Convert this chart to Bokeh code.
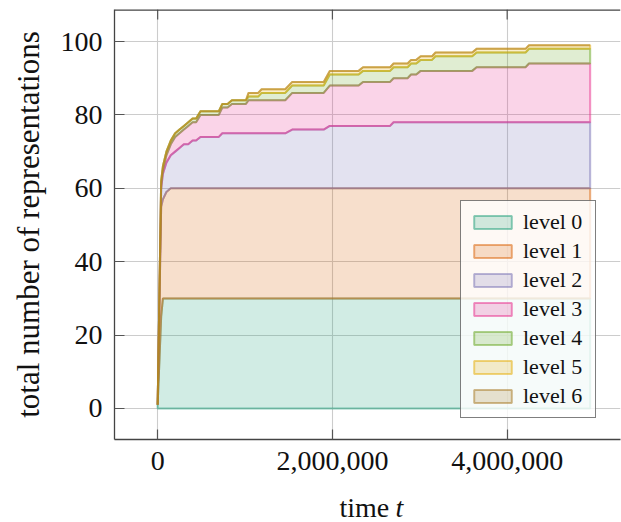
import numpy as np
from bokeh.plotting import figure
from bokeh.layouts import column
from bokeh.models import (Legend, LegendItem, FixedTicker, NumeralTickFormatter,
                          Range1d, Span)
from bokeh.core.properties import value
from bokeh.embed import file_html
from bokeh.resources import INLINE

# ---- data ----
time = [0, 40000, 60000, 100000, 150000, 200000, 250000, 300000, 350000, 400000,
        440000, 490000, 700000, 740000, 800000, 850000, 1010000, 1040000, 1150000,
        1190000, 1460000, 1540000, 1900000, 1970000, 2300000, 2350000, 2660000,
        2700000, 2860000, 2900000, 2960000, 3010000, 3140000, 3180000, 3600000,
        3650000, 4210000, 4250000, 4950000]

level0 = [1, 25, 30, 30, 30, 30, 30, 30, 30, 30, 30, 30, 30, 30, 30, 30, 30, 30, 30, 30,
          30, 30, 30, 30, 30, 30, 30, 30, 30, 30, 30, 30, 30, 30, 30, 30, 30, 30, 30]
level1 = [0, 30, 27, 29, 30, 30, 30, 30, 30, 30, 30, 30, 30, 30, 30, 30, 30, 30, 30, 30,
          30, 30, 30, 30, 30, 30, 30, 30, 30, 30, 30, 30, 30, 30, 30, 30, 30, 30, 30]
level2 = [0, 5, 7, 8, 9, 10, 11, 12, 12, 13, 13, 14, 14, 15, 15, 15, 15, 15, 15, 15,
          15, 16, 16, 17, 17, 17, 17, 18, 18, 18, 18, 18, 18, 18, 18, 18, 18, 18, 18]
level3 = [0, 1, 1, 2, 3, 4, 4, 4, 5, 5, 5, 6, 6, 7, 7, 8, 8, 9, 9, 9,
          9, 10, 10, 11, 11, 12, 12, 12, 12, 13, 13, 14, 14, 14, 14, 15, 15, 16, 16]
level4 = [0, 1, 1, 1, 1, 1, 1, 1, 1, 1, 1, 1, 1, 1, 1, 1, 1, 1, 1, 2,
          2, 2, 2, 3, 3, 3, 3, 3, 3, 3, 3, 3, 3, 4, 4, 4, 4, 4, 4]
level5 = [0, 0, 0, 0, 0, 0, 0, 0, 0, 0, 0, 0, 0, 0, 0, 0, 0, 1, 1, 1,
          1, 1, 1, 1, 1, 1, 1, 1, 1, 1, 1, 1, 1, 1, 1, 1, 1, 1, 1]
level6 = [0, 0, 0, 0, 0, 0, 0, 0, 0, 0, 0, 0, 0, 0, 0, 0, 0, 0, 0, 0,
          0, 0, 0, 0, 0, 0, 0, 0, 0, 0, 0, 0, 0, 0, 0, 0, 0, 0, 0]

labels = ["level 0", "level 1", "level 2", "level 3", "level 4", "level 5", "level 6"]
x_ticks = [0, 2000000, 4000000]
y_ticks = [0, 20, 40, 60, 80, 100]
x_label = ["time", "t"]

colors = ["#1b9e77", "#d95f02", "#7570b3", "#e7298a", "#66a61e", "#e6ab02", "#a6761d"]
FONT = "Liberation Serif"
TXT = "#111111"
X0, X1 = -494000, 5297000
Y0, Y1 = -8.46, 108.73

p = figure(width=621, height=482, output_backend="svg", toolbar_location=None,
           x_range=Range1d(X0, X1), y_range=Range1d(Y0, Y1),
           min_border_left=114, min_border_right=1, min_border_top=9,
           min_border_bottom=43, frame_align=False)
p.outline_line_color = None
p.background_fill_color = "white"
p.border_fill_color = "white"

levels = [level0, level1, level2, level3, level4, level5, level6]
t = np.array(time, dtype=float)
bottom = np.zeros(len(t))
renderers = []
for vals, col in zip(levels, colors):
    top = bottom + np.array(vals, dtype=float)
    xs = np.concatenate([t, t[::-1]])
    ys = np.concatenate([top, bottom[::-1]])
    r = p.patch(xs, ys, fill_color=col, fill_alpha=0.2, line_color=col,
                line_alpha=0.5, line_width=2.0)
    renderers.append(r)
    bottom = top

# axes
for ax in [p.xaxis[0], p.yaxis[0]]:
    ax.major_tick_in = 10
    ax.major_tick_out = 0
    ax.minor_tick_line_color = None
    ax.axis_line_color = "#444444"
    ax.axis_line_width = 1.3
    ax.major_tick_line_color = "#555555"
    ax.major_tick_line_width = 1.2
    ax.major_label_text_font = FONT
    ax.major_label_text_font_size = "28px"
    ax.major_label_text_color = TXT
    ax.major_label_standoff = 12

p.xaxis[0].ticker = FixedTicker(ticks=x_ticks)
p.xaxis[0].formatter = NumeralTickFormatter(format="0,0")
p.yaxis[0].ticker = FixedTicker(ticks=y_ticks)
p.yaxis[0].axis_label = "total number of representations"
p.yaxis[0].axis_label_text_font = FONT
p.yaxis[0].axis_label_text_font_style = "normal"
p.yaxis[0].axis_label_text_font_size = "31px"
p.yaxis[0].axis_label_text_color = TXT
p.yaxis[0].axis_label_standoff = 12

# top frame line and inward ticks on the top edge
p.add_layout(Span(location=Y1, dimension="width", line_color="#444444", line_width=2.6))
tick_len = 10 / (429.5 / (Y1 - Y0))
p.segment(x0=x_ticks, y0=[Y1] * len(x_ticks), x1=x_ticks, y1=[Y1 - tick_len] * len(x_ticks),
          line_color="#555555", line_width=1.2)

p.xgrid.ticker = FixedTicker(ticks=x_ticks)
p.ygrid.ticker = FixedTicker(ticks=y_ticks)
for g in [p.xgrid[0], p.ygrid[0]]:
    g.grid_line_color = "#cccccc"
    g.grid_line_width = 1.1

legend = Legend(items=[LegendItem(label=l, renderers=[r]) for l, r in zip(labels, renderers)],
                location=(346, 21), orientation="vertical",
                glyph_width=47, glyph_height=16, label_standoff=7, padding=8, spacing=3,
                label_width=64,
                label_text_font=FONT, label_text_font_size="22px", label_text_color=TXT,
                border_line_color="black", border_line_width=1.3,
                background_fill_color="white", background_fill_alpha=0.8,
                margin=0)
p.add_layout(legend)

# x axis title strip ("time t" with italic t)
q = figure(width=621, height=40, output_backend="svg", toolbar_location=None,
           x_range=Range1d(0, 621), y_range=Range1d(0, 40),
           min_border_left=0, min_border_right=0, min_border_top=0, min_border_bottom=0,
           frame_align=False)
q.title = None
q.axis.visible = False
q.grid.visible = False
q.outline_line_color = None
q.background_fill_color = "white"
q.border_fill_color = "white"
q.text(x=[339], y=[15], text=[x_label[0]], text_font=value(FONT), text_font_size="28px",
       text_color=TXT, text_baseline="alphabetic")
q.text(x=[395], y=[15], text=[x_label[1]], text_font=value(FONT), text_font_size="28px",
       text_font_style="italic", text_color=TXT, text_baseline="alphabetic")

layout = column(p, q, spacing=0)
open("out.html", "w").write(file_html(layout, INLINE))
